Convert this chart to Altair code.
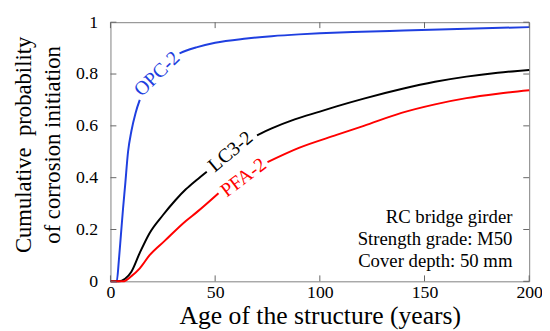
import altair as alt
import pandas as pd

# ---- data ----
years_opc = [0, 3, 4, 5, 6, 7, 8.4, 10, 12, 14, 17, 20, 25, 30, 33, 36, 41, 50, 65, 77, 90, 100, 120, 140, 170, 200]
prob_opc = [0, 0, 0.08, 0.18, 0.28, 0.37, 0.50, 0.58, 0.65, 0.70, 0.75, 0.79, 0.835, 0.866, 0.88, 0.89, 0.903, 0.921, 0.937, 0.946, 0.953, 0.957, 0.963, 0.968, 0.975, 0.981]

years_lc3 = [0, 4, 7, 10, 14, 18.6, 25, 31, 36, 41, 46, 55, 63, 70, 77, 88, 100, 108, 121, 139, 155, 170, 185, 200]
prob_lc3 = [0, 0, 0.01, 0.037, 0.11, 0.185, 0.255, 0.313, 0.355, 0.39, 0.423, 0.48, 0.527, 0.563, 0.59, 0.625, 0.655, 0.675, 0.705, 0.742, 0.77, 0.79, 0.805, 0.816]

years_pfa = [0, 6, 10, 14, 18.6, 26, 36, 41.4, 51.6, 60, 75, 90, 108, 121, 139, 155, 170, 185, 200]
prob_pfa = [0, 0, 0.02, 0.05, 0.10, 0.157, 0.233, 0.268, 0.34, 0.39, 0.46, 0.515, 0.565, 0.60, 0.65, 0.683, 0.707, 0.724, 0.737]

series_names = ["OPC-2", "LC3-2", "PFA-2"]
series_colors = ["#1f3fe0", "#000000", "#ff0000"]

# curve labels: anchor (year, probability), text angle, and the stretch of years the label covers
label_years = [22.3, 57.4, 63.6]
label_probs = [0.80, 0.50, 0.40]
label_angles = [316, 320, 323]
label_gap_from = [14, 46, 51.6]
label_gap_to = [33, 70, 75]

x_ticks = [0, 50, 100, 150, 200]
y_ticks = [0, 0.2, 0.4, 0.6, 0.8, 1]

notes = ["RC bridge girder", "Strength grade: M50", "Cover depth: 50 mm"]

# ---- tables ----
rows = []
for i, (name, xs_, ys_) in enumerate(zip(series_names, [years_opc, years_lc3, years_pfa],
                                          [prob_opc, prob_lc3, prob_pfa])):
    g0, g1 = label_gap_from[i], label_gap_to[i]
    for a, b in zip(xs_, ys_):
        if a <= g0:
            rows.append({"series": name, "seg": name + "a", "x": a, "y": b})
        elif a >= g1:
            rows.append({"series": name, "seg": name + "b", "x": a, "y": b})
df = pd.DataFrame(rows)

lab = pd.DataFrame({"series": series_names, "x": label_years, "y": label_probs, "angle": label_angles})

W, H = 425, 263
FONT = "Liberation Serif"
TICK = "#666666"

xs = alt.Scale(domain=[0, 200], nice=False, zero=False)
ys = alt.Scale(domain=[0, 1], nice=False)
cs = alt.Scale(domain=series_names, range=series_colors)

xaxis = alt.Axis(
    values=x_ticks, title="Age of the structure (years)", grid=False, domain=False,
    ticks=False, tickSize=0, labelFont=FONT, labelFontSize=18, labelColor="black",
    labelPadding=16, labelBaseline="alphabetic", labelFlush=False, labelOverlap=False,
    titleFont=FONT, titleFontSize=26, titleFontWeight="normal", titleColor="black",
    titleX=W / 2, titleY=43, titleBaseline="alphabetic", titleAlign="center")
yaxis = alt.Axis(
    values=y_ticks, format="~g", title=["Cumulative\u00a0 probability", "of corrosion initiation"],
    grid=False, domain=False, ticks=False, tickSize=0, labelFont=FONT, labelFontSize=18,
    labelColor="black", labelPadding=13, labelFlush=False, labelOverlap=False,
    titleFont=FONT, titleFontSize=23, titleFontWeight="normal", titleColor="black",
    titleAngle=270, titleX=-99, titleY=124, titleBaseline="top", titleAlign="center",
    titleLineHeight=29)

lines = alt.Chart(df).mark_line(strokeWidth=2, interpolate="monotone").encode(
    x=alt.X("x:Q", scale=xs, axis=xaxis),
    y=alt.Y("y:Q", scale=ys, axis=yaxis),
    color=alt.Color("series:N", scale=cs, legend=None),
    detail="seg:N",
)

labels = alt.Chart(lab).mark_text(font=FONT, fontSize=20, align="center", baseline="middle").encode(
    x=alt.X("x:Q", scale=xs, axis=xaxis),
    y=alt.Y("y:Q", scale=ys, axis=yaxis),
    text="series:N",
    angle=alt.Angle("angle:Q", scale=None),
    color=alt.Color("series:N", scale=cs, legend=None),
)

xt = pd.DataFrame({"x": x_ticks})
yt = pd.DataFrame({"y": y_ticks})
tick_bottom = alt.Chart(xt).mark_rule(color=TICK, strokeWidth=1).encode(
    x=alt.X("x:Q", scale=xs, axis=xaxis), y=alt.value(H), y2=alt.value(H - 6))
tick_top = alt.Chart(xt).mark_rule(color=TICK, strokeWidth=1).encode(
    x=alt.X("x:Q", scale=xs, axis=xaxis), y=alt.value(0), y2=alt.value(6))
tick_left = alt.Chart(yt).mark_rule(color=TICK, strokeWidth=1).encode(
    y=alt.Y("y:Q", scale=ys, axis=yaxis), x=alt.value(0), x2=alt.value(6))
tick_right = alt.Chart(yt).mark_rule(color=TICK, strokeWidth=1).encode(
    y=alt.Y("y:Q", scale=ys, axis=yaxis), x=alt.value(W), x2=alt.value(W - 6))

note = alt.Chart(pd.DataFrame({"a": [0]})).mark_text(
    font=FONT, fontSize=19, align="right", baseline="alphabetic", lineHeight=22.5, color="black"
).encode(x=alt.value(408), y=alt.value(203.5), text=alt.value(notes))

chart = alt.layer(
    lines, tick_bottom, tick_top, tick_left, tick_right, labels, note
).properties(
    width=W, height=H,
    autosize=alt.AutoSizeParams(type="none"),
    padding={"left": 104, "top": 12, "right": 13, "bottom": 48},
).configure(
    background="white", font=FONT
).configure_axis(
    labelFont=FONT, titleFont=FONT
).configure_view(stroke="#808080", strokeWidth=1)

chart.save("out.html", embed_options={"renderer": "svg", "actions": False})
